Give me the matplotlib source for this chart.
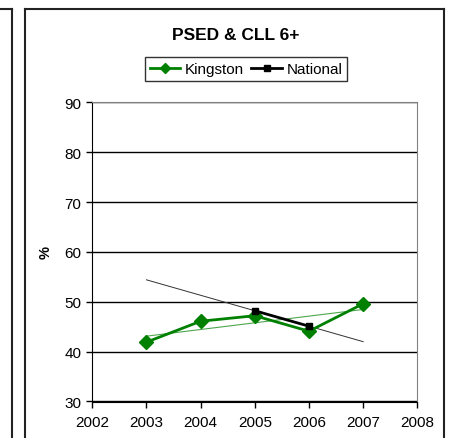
import numpy as np
import matplotlib
matplotlib.use("Agg")
import matplotlib.pyplot as plt
from matplotlib.lines import Line2D

plt.rcParams['font.family'] = ['Liberation Sans', 'DejaVu Sans']

title = "PSED & CLL 6+"
kingston_years = [2003, 2004, 2005, 2006, 2007]
kingston_vals = [41.9, 46.1, 47.2, 44.1, 49.6]
national_years = [2005, 2006]
national_vals = [48.2, 45.1]
xticks = [2002, 2003, 2004, 2005, 2006, 2007, 2008]
yticks = [30, 40, 50, 60, 70, 80, 90]

W, H = 453, 439
fig = plt.figure(figsize=(W / 100, H / 100), dpi=100)
ax = fig.add_axes([92.3 / W, (H - 402.5) / H, 325 / W, 299.2 / H])

green = '#008000'
# trendlines
trend_x = np.array([2003, 2007])
kp = np.polyfit(kingston_years, kingston_vals, 1)
npf = np.polyfit(national_years, national_vals, 1)
ax.plot(trend_x, np.polyval(kp, trend_x), color='#4da64d', lw=0.8, zorder=3)
ax.plot(trend_x, np.polyval(npf, trend_x), color='#333333', lw=0.7, zorder=3)

ax.plot(kingston_years, kingston_vals, color=green, lw=2, marker='D', ms=7,
        label='Kingston', zorder=4)
ax.plot(national_years, national_vals, color='black', lw=2, marker='s', ms=5,
        label='National', zorder=5)

ax.set_xlim(2002, 2008)
ax.set_ylim(30, 90)
ax.set_xticks(xticks)
ax.set_yticks(yticks)
ax.tick_params(direction='out', length=4, width=1, labelsize=11, color='black')
ax.tick_params(axis='x', pad=6)
ax.tick_params(axis='y', pad=4)
ax.grid(axis='y', color='black', lw=1)
ax.set_axisbelow(True)
for s in ['top', 'right']:
    ax.spines[s].set_color('#808080')
for s in ['left', 'bottom']:
    ax.spines[s].set_color('black')
ax.set_ylabel('%', fontweight='bold', fontsize=10.5, labelpad=8)

fig.text(236 / W, 1 - 35 / H, title, ha='center', va='center', fontsize=12.5,
         fontweight='bold')

leg = fig.legend(loc='center', bbox_to_anchor=(246 / W, 1 - 70 / H), ncol=2,
                 frameon=True, fancybox=False, edgecolor='black', fontsize=11,
                 handlelength=2.0, handletextpad=0.3, columnspacing=0.5,
                 borderpad=0.3, markerscale=0.8)
leg.get_frame().set_linewidth(1)

# frames
lc = '#222222'
fig.add_artist(Line2D([25 / W, 25 / W], [0, 1 - 10 / H], transform=fig.transFigure, color=lc, lw=1.5))
fig.add_artist(Line2D([25 / W, 444 / W], [1 - 10 / H, 1 - 10 / H], transform=fig.transFigure, color=lc, lw=1.5))
fig.add_artist(Line2D([444 / W, 444 / W], [0, 1 - 10 / H], transform=fig.transFigure, color=lc, lw=1.5))
fig.add_artist(Line2D([12 / W, 12 / W], [0, 1 - 10 / H], transform=fig.transFigure, color=lc, lw=1.5))
fig.add_artist(Line2D([0, 12 / W], [1 - 10 / H, 1 - 10 / H], transform=fig.transFigure, color=lc, lw=1.5))

fig.savefig('out.png', dpi=100)
